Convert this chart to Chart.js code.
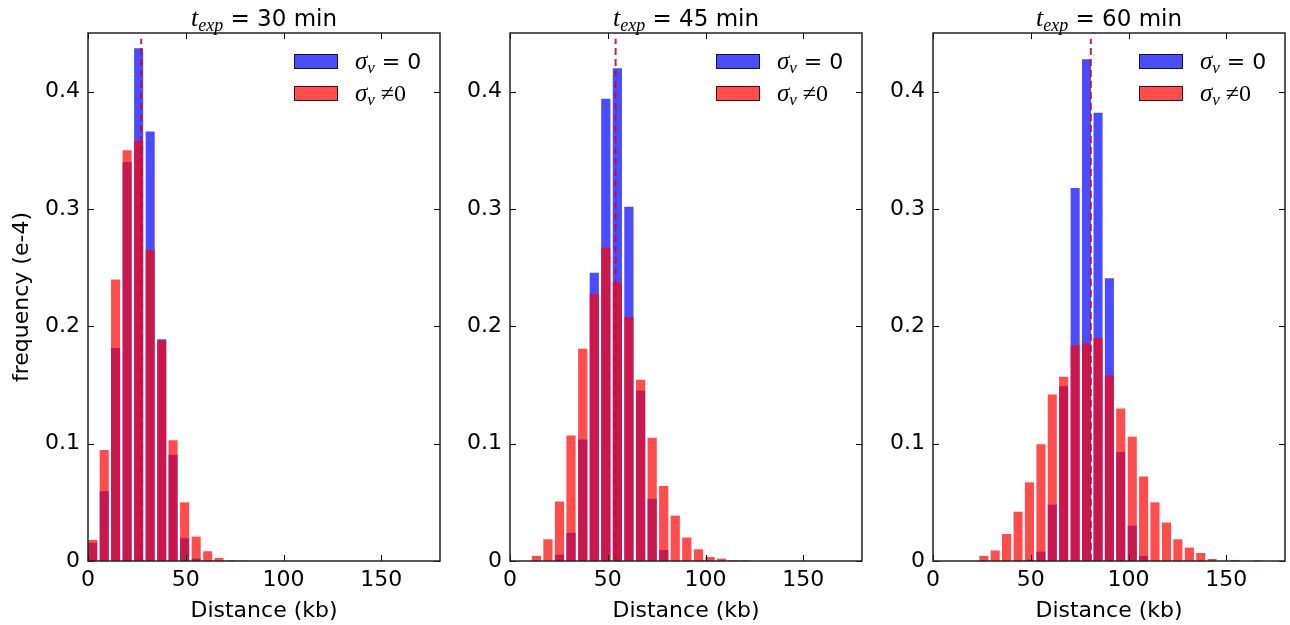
<!DOCTYPE html>
<html>
<head>
<meta charset="utf-8">
<script src="https://cdn.jsdelivr.net/npm/chart.js@4.4.1/dist/chart.umd.min.js"></script>
<style>
  html, body { margin: 0; padding: 0; background: #fff; }
  #wrap { position: relative; width: 1290px; height: 625px; }
  canvas { position: absolute; left: 0; top: 0; }
</style>
</head>
<body>
<div id="wrap">
  <canvas id="c30" width="1290" height="625"></canvas>
  <canvas id="c45" width="1290" height="625"></canvas>
  <canvas id="c60" width="1290" height="625"></canvas>
</div>
<script>
// histogram bin centres (kb) and heights (frequency, e-4)
const bins30 = [2.4, 8.3, 14.1, 20.0, 25.9, 31.8, 37.7, 43.5, 49.4, 55.3, 61.2, 67.0, 72.9, 78.8];
const blue30 = [0.0155, 0.0595, 0.1815, 0.340, 0.437, 0.366, 0.189, 0.0906, 0.0194, 0.002, 0, 0, 0, 0];
const red30  = [0.018, 0.0947, 0.240, 0.350, 0.358, 0.265, 0.188, 0.103, 0.050, 0.0208, 0.0083, 0.0026, 0.0006, 0.0003];
const mean30 = 27.2;

const bins45 = [13.5, 19.4, 25.3, 31.2, 37.2, 43.1, 49.0, 54.9, 60.8, 66.8, 72.7, 78.6, 84.5, 90.4, 96.4, 102.3, 108.2, 114.1, 120.0];
const blue45 = [0, 0, 0.0053, 0.024, 0.1035, 0.2457, 0.394, 0.420, 0.302, 0.145, 0.053, 0.0094, 0, 0, 0, 0, 0, 0, 0];
const red45  = [0.0044, 0.0185, 0.0507, 0.107, 0.181, 0.2276, 0.267, 0.2375, 0.208, 0.1545, 0.105, 0.064, 0.0387, 0.020, 0.010, 0.0034, 0.002, 0.0006, 0.0006];
const mean45 = 54.0;

const bins60 = [26.0, 31.8, 37.6, 43.5, 49.3, 55.2, 61.0, 66.8, 72.7, 78.5, 84.4, 90.2, 96.0, 101.9, 107.7, 113.5, 119.4, 125.2, 131.1, 136.9, 142.7, 148.6, 154.4, 160.3, 166.1];
const blue60 = [0, 0, 0, 0, 0.001, 0.008, 0.048, 0.149, 0.318, 0.4276, 0.382, 0.241, 0.093, 0.030, 0.0044, 0, 0, 0, 0, 0, 0, 0, 0, 0, 0];
const red60  = [0.0044, 0.009, 0.023, 0.042, 0.067, 0.0994, 0.142, 0.157, 0.184, 0.1856, 0.19, 0.158, 0.130, 0.106, 0.072, 0.050, 0.0328, 0.0185, 0.0114, 0.0068, 0.0017, 0, 0.0009, 0, 0.0006];
const mean60 = 80.7;

const xTicks = [0, 50, 100, 150];
const yTicks = [0, 0.1, 0.2, 0.3, 0.4];

const SANS = '"DejaVu Sans", sans-serif';
const SERIF = '"Liberation Serif", serif';
const BLUE = 'rgba(0,0,255,0.7)';
const RED = 'rgba(255,0,0,0.7)';

// draw a run of text pieces (mathtext-ish) starting at x
function drawRun(ctx, parts, x, base, center) {
  let w = 0;
  parts.forEach(p => { ctx.font = p.font; w += ctx.measureText(p.t).width; });
  let cx = center ? x - w / 2 : x;
  ctx.textBaseline = 'alphabetic';
  ctx.textAlign = 'left';
  parts.forEach(p => {
    ctx.font = p.font;
    ctx.fillText(p.t, cx, base + (p.dy || 0));
    cx += ctx.measureText(p.t).width;
  });
}

const decor = {
  id: 'decor',
  afterDraw(chart, args, opts) {
    const {ctx, chartArea: a, scales: {x, y}} = chart;
    ctx.save();
    ctx.fillStyle = '#000';
    ctx.strokeStyle = '#000';
    // inward ticks on all four sides
    ctx.lineWidth = 1;
    ctx.beginPath();
    xTicks.forEach(v => {
      const px = Math.round(x.getPixelForValue(v)) + 0.5;
      ctx.moveTo(px, a.bottom); ctx.lineTo(px, a.bottom - 6);
      ctx.moveTo(px, a.top); ctx.lineTo(px, a.top + 6);
    });
    yTicks.forEach(v => {
      const py = Math.round(y.getPixelForValue(v)) + 0.5;
      ctx.moveTo(a.left, py); ctx.lineTo(a.left + 6, py);
      ctx.moveTo(a.right, py); ctx.lineTo(a.right - 6, py);
    });
    ctx.stroke();
    ctx.lineWidth = 1.5;
    ctx.strokeStyle = '#222';
    ctx.strokeRect(a.left, a.top, a.right - a.left, a.bottom - a.top);

    // title
    ctx.fillStyle = '#000';
    drawRun(ctx, [
      {t: 't', font: 'italic 26px ' + SERIF},
      {t: 'exp', font: 'italic 18px ' + SERIF, dy: 5},
      {t: ' = ' + opts.minutes + ' min', font: '23px ' + SANS}
    ], (a.left + a.right) / 2, a.top - 7, true);

    // legend
    const bx = a.right - 146, tx = a.right - 85;
    const rows = [
      {fill: BLUE, parts: [
        {t: 'σ', font: 'italic 25px ' + SERIF},
        {t: 'v', font: 'italic 17px ' + SERIF, dy: 4},
        {t: ' = 0', font: '22px ' + SANS}]},
      {fill: RED, parts: [
        {t: 'σ', font: 'italic 25px ' + SERIF},
        {t: 'v', font: 'italic 17px ' + SERIF, dy: 4},
        {t: ' ≠', font: '24px ' + SERIF},
        {t: '0', font: '24px ' + SERIF}]}
    ];
    rows.forEach((r, i) => {
      const top = a.top + 21 + i * 32;
      ctx.fillStyle = r.fill;
      ctx.fillRect(bx, top, 44, 15);
      ctx.strokeStyle = 'rgba(0,0,0,0.75)';
      ctx.lineWidth = 1;
      ctx.strokeRect(bx + 0.5, top + 0.5, 43, 14);
      ctx.fillStyle = '#000';
      drawRun(ctx, r.parts, tx, top + 15, false);
    });
    ctx.restore();
  }
};

function makePanel(id, bins, blue, red, mean, minutes, left, right, yTitle) {
  const yW = yTitle ? 88 : 60;
  const pts = (vals) => bins.map((b, i) => ({x: b, y: vals[i]}));
  return new Chart(document.getElementById(id), {
    type: 'bar',
    data: {
      datasets: [
        {label: 'σv = 0', data: pts(blue), backgroundColor: BLUE, borderWidth: 0, order: 2},
        {label: 'σv ≠ 0', data: pts(red), backgroundColor: RED, borderWidth: 0, order: 1},
        {type: 'line', label: 'mean', data: [{x: mean, y: 0}, {x: mean, y: 0.445}],
         borderColor: 'rgba(190,10,60,0.9)', borderWidth: 2, borderDash: [7, 4],
         pointRadius: 0, fill: false, order: 0}
      ]
    },
    options: {
      responsive: false,
      animation: false,
      devicePixelRatio: 1,
      layout: {padding: {left: left - yW, right: 1290 - right, top: 33, bottom: 0}},
      datasets: {bar: {grouped: false, categoryPercentage: 1, barPercentage: 0.8}},
      plugins: {legend: {display: false}, tooltip: {enabled: false}, decor: {minutes: minutes}},
      scales: {
        x: {
          type: 'linear', min: 0, max: 180, offset: false,
          grid: {display: false, drawTicks: false, offset: false},
          border: {display: false},
          ticks: {stepSize: 50, includeBounds: false, padding: 6, maxRotation: 0, autoSkip: false,
                  color: '#000', font: {family: SANS, size: 22}},
          title: {display: true, text: 'Distance (kb)', color: '#000',
                  font: {family: SANS, size: 22}, padding: {top: 0, bottom: 1}},
          afterFit: s => { s.height = 64; }
        },
        y: {
          min: 0, max: 0.45,
          grid: {display: false, drawTicks: false},
          border: {display: false},
          ticks: {stepSize: 0.1, includeBounds: false, padding: 8,
                  color: '#000', font: {family: SANS, size: 22}},
          title: {display: yTitle, text: 'frequency (e-4)', color: '#000',
                  font: {family: SANS, size: 22}, padding: {top: 9, bottom: 0}},
          afterFit: s => { s.width = yW; }
        }
      }
    },
    plugins: [decor]
  });
}

makePanel('c30', bins30, blue30, red30, mean30, 30, 88, 440, true);
makePanel('c45', bins45, blue45, red45, mean45, 45, 510, 862, false);
makePanel('c60', bins60, blue60, red60, mean60, 60, 933, 1285, false);
</script>
</body>
</html>
